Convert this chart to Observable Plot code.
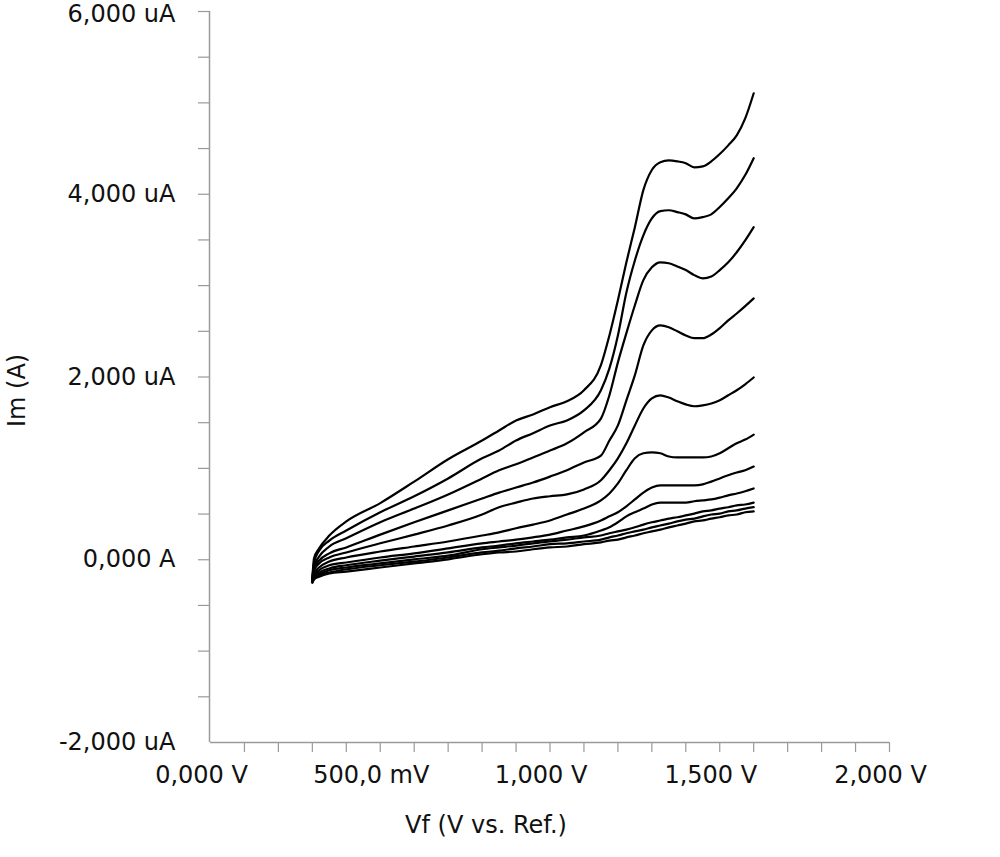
<!DOCTYPE html>
<html>
<head>
<meta charset="utf-8">
<script src="https://cdn.jsdelivr.net/npm/d3@7"></script>
<script src="https://cdn.jsdelivr.net/npm/@observablehq/plot@0.6"></script>
<style>
  html, body { margin: 0; padding: 0; background: #ffffff; }
  #chart { width: 1000px; height: 857px; }
</style>
</head>
<body>
<div id="chart"></div>
<script>
// Potential (V vs. Ref.) sampled along each anodic scan
const potentials = [0.30, 0.305, 0.32, 0.35, 0.40, 0.50, 0.60, 0.70, 0.80, 0.85, 0.90, 0.95, 1.00, 1.05, 1.10, 1.15, 1.175, 1.20, 1.225, 1.25, 1.275, 1.30, 1.325, 1.35, 1.375, 1.40, 1.425, 1.45, 1.475, 1.50, 1.525, 1.55, 1.575, 1.60];

// Current (uA) for each scan, top to bottom
const scan1  = [-205, 15, 125, 265, 420, 620, 855, 1100, 1305, 1415, 1525, 1590, 1670, 1735, 1855, 2130, 2455, 2840, 3255, 3640, 4045, 4265, 4350, 4370, 4360, 4340, 4295, 4305, 4360, 4440, 4535, 4645, 4830, 5105];
const scan2  = [-205, -30, 100, 210, 320, 520, 695, 890, 1110, 1195, 1305, 1385, 1470, 1525, 1635, 1855, 2095, 2455, 2925, 3275, 3550, 3735, 3815, 3825, 3805, 3780, 3735, 3750, 3780, 3860, 3955, 4065, 4210, 4395];
const scan3  = [-215, -75, 35, 145, 235, 410, 560, 715, 890, 980, 1045, 1120, 1195, 1275, 1395, 1545, 1800, 2160, 2480, 2785, 3060, 3200, 3255, 3245, 3210, 3170, 3115, 3080, 3100, 3170, 3255, 3365, 3495, 3640];
const scan4  = [-215, -95, -10, 70, 135, 275, 410, 540, 670, 735, 790, 845, 910, 980, 1065, 1140, 1305, 1470, 1745, 2020, 2345, 2510, 2565, 2545, 2500, 2455, 2425, 2425, 2465, 2535, 2620, 2695, 2775, 2860];
const scan5  = [-225, -115, -40, 25, 80, 180, 275, 375, 495, 575, 625, 670, 695, 715, 770, 870, 980, 1110, 1275, 1470, 1655, 1765, 1800, 1775, 1735, 1700, 1680, 1690, 1710, 1745, 1800, 1855, 1920, 1995];
const scan6  = [-225, -150, -85, -20, 25, 90, 145, 200, 265, 300, 345, 385, 430, 495, 560, 650, 725, 835, 980, 1110, 1165, 1175, 1165, 1130, 1120, 1120, 1120, 1120, 1130, 1165, 1220, 1275, 1315, 1370];
const scan7  = [-225, -170, -115, -60, -30, 25, 70, 125, 180, 200, 220, 245, 275, 320, 365, 430, 475, 520, 585, 660, 735, 790, 815, 815, 815, 815, 815, 825, 855, 890, 925, 955, 980, 1020];
const scan8  = [-240, -185, -140, -95, -60, -10, 35, 80, 135, 155, 180, 200, 220, 245, 265, 320, 355, 410, 475, 520, 560, 605, 625, 625, 625, 625, 640, 650, 660, 680, 705, 725, 750, 780];
const scan9  = [-240, -195, -160, -115, -85, -40, 5, 45, 115, 135, 155, 180, 200, 220, 245, 265, 290, 310, 330, 355, 385, 410, 430, 450, 465, 485, 505, 530, 540, 560, 575, 595, 605, 625];
const scan10 = [-250, -205, -170, -140, -105, -60, -20, 25, 80, 100, 125, 145, 170, 180, 200, 220, 245, 265, 290, 310, 330, 355, 375, 395, 420, 440, 450, 475, 495, 505, 530, 540, 560, 575];
const scan11 = [-250, -215, -185, -150, -130, -85, -40, 5, 60, 80, 90, 115, 135, 145, 170, 190, 210, 220, 245, 265, 290, 310, 330, 355, 375, 395, 420, 430, 450, 465, 485, 495, 520, 530];

// Axes
const xDomain = [0, 2];
const yDomain = [-2000, 6000];
const xMajorTicks = [0, 0.5, 1, 1.5, 2];
const xTickLabels = ["0,000 V", "500,0 mV", "1,000 V", "1,500 V", "2,000 V"];
const xMinorTicks = [0.1, 0.2, 0.3, 0.4, 0.5, 0.6, 0.7, 0.8, 0.9, 1.0, 1.1, 1.2, 1.3, 1.4, 1.5, 1.6, 1.7, 1.8, 1.9, 2.0];
const yMajorTicks = [-2000, 0, 2000, 4000];
const yTickLabels = ["-2,000 uA", "0,000 A", "2,000 uA", "4,000 uA"];
const yTopTick = [6000];
const yTopLabel = ["6,000 uA"];
const yMinorTicks = [-1500, -1000, -500, 0, 500, 1000, 1500, 2000, 2500, 3000, 3500, 4000, 4500, 5000, 5500, 6000];
const xTitle = "Vf (V vs. Ref.)";
const yTitle = "Im (A)";

const scans = [scan1, scan2, scan3, scan4, scan5, scan6, scan7, scan8, scan9, scan10, scan11];
const rows = scans.flatMap((s, k) => potentials.map((v, i) => ({scan: k, v, cur: s[i]})));

const axisColor = "#9a9a9a";
const textColor = "#111111";
const font = "DejaVu Sans, sans-serif";

const chart = Plot.plot({
  width: 1000,
  height: 857,
  marginLeft: 210,
  marginRight: 111,
  marginTop: 11,
  marginBottom: 115,
  style: {background: "#ffffff", fontFamily: font, color: textColor},
  x: {domain: xDomain, label: null},
  y: {domain: yDomain, label: null},
  marks: [
    Plot.ruleX([0], {y1: yDomain[0], y2: yDomain[1], stroke: axisColor, strokeWidth: 1.5, dx: -1}),
    Plot.ruleY([yDomain[0]], {x1: xDomain[0], x2: xDomain[1], stroke: axisColor, strokeWidth: 1.5}),
    Plot.axisY({ticks: yMinorTicks, tickSize: 12, tickFormat: () => "", stroke: axisColor, strokeWidth: 1.2, label: null}),
    Plot.axisY({ticks: yMajorTicks, tickSize: 0, tickPadding: 35, label: null,
      tickFormat: d => yTickLabels[yMajorTicks.indexOf(d)], fontSize: 24, fill: textColor}),
    Plot.axisY({ticks: yTopTick, tickSize: 0, tickPadding: 35, label: null, dy: 3,
      tickFormat: d => yTopLabel[yTopTick.indexOf(d)], fontSize: 24, fill: textColor}),
    Plot.axisX({ticks: xMinorTicks, tickSize: 10, tickFormat: () => "", stroke: axisColor, strokeWidth: 1.2, label: null}),
    Plot.axisX({ticks: xMajorTicks, tickSize: 0, tickPadding: 23, label: null, dx: -9,
      tickFormat: d => xTickLabels[xMajorTicks.indexOf(d)], fontSize: 24, fill: textColor}),
    Plot.text([xTitle], {frameAnchor: "bottom", dx: -64, dy: 90, fontSize: 24, fill: textColor}),
    Plot.text([yTitle], {frameAnchor: "left", rotate: -90, dx: -193, dy: 50, fontSize: 24, fill: textColor}),
    Plot.line(rows, {x: "v", y: "cur", z: "scan", stroke: "#000000", strokeWidth: 2.2, curve: "monotone-x"})
  ]
});

document.getElementById("chart").appendChild(chart);
</script>
</body>
</html>
